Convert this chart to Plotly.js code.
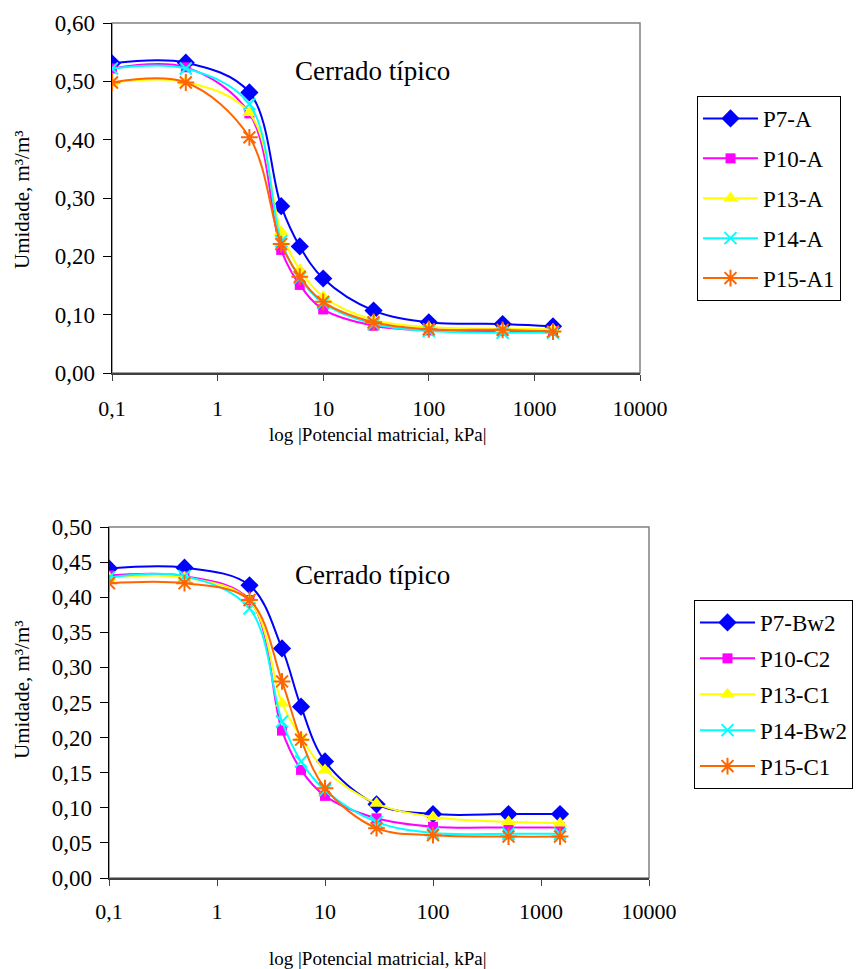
<!DOCTYPE html>
<html>
<head>
<meta charset="utf-8">
<script src="https://cdn.plot.ly/plotly-3.0.1.min.js"></script>
<style>html,body{margin:0;padding:0;background:#fff;}#chart{width:857px;height:969px;}</style>
</head>
<body>
<div id="chart"></div>
<script>
// Shared suction values (kPa)
const potencial = [0.1, 0.5, 2, 4, 6, 10, 30, 100, 500, 1500];

// Top chart: horizon A
const topNames = ["P7-A", "P10-A", "P13-A", "P14-A", "P15-A1"];
const P7_A   = [0.531, 0.532, 0.481, 0.286, 0.217, 0.162, 0.107, 0.087, 0.084, 0.080];
const P10_A  = [0.522, 0.524, 0.445, 0.211, 0.151, 0.109, 0.081, 0.073, 0.072, 0.072];
const P13_A  = [0.498, 0.499, 0.446, 0.242, 0.177, 0.131, 0.091, 0.079, 0.076, 0.075];
const P14_A  = [0.522, 0.522, 0.461, 0.226, 0.163, 0.120, 0.084, 0.072, 0.069, 0.069];
const P15_A1 = [0.498, 0.498, 0.404, 0.221, 0.165, 0.122, 0.087, 0.075, 0.074, 0.071];

// Bottom chart: deep horizons
const botNames = ["P7-Bw2", "P10-C2", "P13-C1", "P14-Bw2", "P15-C1"];
const P7_Bw2  = [0.441, 0.442, 0.417, 0.327, 0.244, 0.166, 0.105, 0.091, 0.091, 0.091];
const P10_C2  = [0.431, 0.430, 0.396, 0.210, 0.154, 0.117, 0.085, 0.073, 0.072, 0.072];
const P13_C1  = [0.428, 0.428, 0.395, 0.249, 0.200, 0.154, 0.106, 0.087, 0.080, 0.078];
const P14_Bw2 = [0.428, 0.430, 0.384, 0.223, 0.166, 0.125, 0.080, 0.064, 0.063, 0.063];
const P15_C1  = [0.420, 0.420, 0.396, 0.280, 0.197, 0.128, 0.071, 0.061, 0.059, 0.059];

const xTickVals = [0.1, 1, 10, 100, 1000, 10000];
const xTickText = ["0,1", "1", "10", "100", "1000", "10000"];
const annotationText = "Cerrado típico";
const xTitle = "log |Potencial matricial, kPa|";
const yTitle = "Umidade, m³/m³";

const styles = [
  {color: "#0000FF", symbol: "diamond", size: 14, lw: 0},
  {color: "#FF00FF", symbol: "square", size: 10, lw: 0},
  {color: "#FFFF00", symbol: "triangle-up", size: 13, lw: 0},
  {color: "#00FFFF", symbol: "x-thin-open", size: 12, lw: 2},
  {color: "#FF6600", symbol: "asterisk-open", size: 14, lw: 2}
];

function mk(name, y, s, xa, ya, leg) {
  return {
    type: "scatter", mode: "lines+markers", name: name,
    x: potencial, y: y, xaxis: xa, yaxis: ya, legend: leg, legendgroup: leg + name,
    line: {color: s.color, width: 2, shape: "spline", smoothing: 1},
    marker: {color: s.color, symbol: s.symbol, size: s.size, line: {color: s.color, width: s.lw}}
  };
}

const topSeries = [P7_A, P10_A, P13_A, P14_A, P15_A1];
const botSeries = [P7_Bw2, P10_C2, P13_C1, P14_Bw2, P15_C1];
const data = [];
topSeries.forEach((y, i) => data.push(mk(topNames[i], y, styles[i], "x", "y", "legend")));
botSeries.forEach((y, i) => data.push(mk(botNames[i], y, styles[i], "x2", "y2", "legend2")));

const W = 857, H = 969;
const FAM = "Liberation Serif";
const font = {family: FAM, color: "#000", size: 20};

function xax(dom, anchor, standoff) {
  return {
    domain: dom, anchor: anchor, type: "log", range: [-1, 4],
    tickvals: xTickVals, ticktext: xTickText, ticks: "outside", ticklen: 6, tickcolor: "#404040",
    showline: true, linecolor: "#404040", linewidth: 2, showgrid: false, zeroline: false,
    tickfont: {family: FAM, size: 22, color: "#000"}, ticklabelstandoff: standoff
  };
}
function yax(dom, anchor, max, dt) {
  return {
    domain: dom, anchor: anchor, range: [0, max], dtick: dt, tick0: 0, tickformat: ".2f",
    ticks: "outside", ticklen: 8, tickcolor: "#000", showline: true, linecolor: "#000", linewidth: 1.5,
    showgrid: false, zeroline: false, tickfont: {family: FAM, size: 23, color: "#000"}, ticklabelstandoff: 3
  };
}

function txt(t, x, y, size, rot) {
  return {text: t, xref: "paper", yref: "paper", x: x / W, y: 1 - y / H, showarrow: false,
    font: {family: FAM, size: size, color: "#000"}, xanchor: "center", yanchor: "middle", textangle: rot || 0};
}

const legBase = {xanchor: "left", yanchor: "top", bordercolor: "#000", borderwidth: 1,
  bgcolor: "#fff", font: {family: FAM, size: 23, color: "#000"}, traceorder: "grouped", itemwidth: 55};

const layout = {
  width: W, height: H, margin: {l: 0, r: 0, t: 0, b: 0},
  paper_bgcolor: "#fff", plot_bgcolor: "#fff", font: font, separators: ",.",
  xaxis: xax([112/W, 640/W], "y", 9),
  yaxis: yax([1 - 373/H, 1 - 23/H], "x", 0.6, 0.1),
  xaxis2: xax([109/W, 649/W], "y2", 7),
  yaxis2: yax([1 - 878/H, 1 - 527/H], "x2", 0.5, 0.05),
  legend: Object.assign({}, legBase, {x: 697/W, y: 1 - 96/H, tracegroupgap: 7}),
  legend2: Object.assign({}, legBase, {x: 694/W, y: 1 - 600/H, tracegroupgap: 3}),
  showlegend: true,
  shapes: [
    {type: "rect", xref: "paper", yref: "paper", x0: 112/W, x1: 640/W, y0: 1 - 373/H, y1: 1 - 23/H,
     line: {color: "#808080", width: 1.5}, layer: "below"},
    {type: "rect", xref: "paper", yref: "paper", x0: 109/W, x1: 649/W, y0: 1 - 878/H, y1: 1 - 527/H,
     line: {color: "#808080", width: 1.5}, layer: "below"}
  ],
  annotations: [
    txt(annotationText, 372, 71, 27),
    txt(annotationText, 372, 575, 27),
    txt(xTitle, 378, 434, 19),
    txt(xTitle, 378, 958, 19),
    txt(yTitle, 22, 200, 21, -90),
    txt(yTitle, 22, 690, 21, -90)
  ]
};

Plotly.newPlot("chart", data, layout, {displayModeBar: false, staticPlot: true});
</script>
</body>
</html>
